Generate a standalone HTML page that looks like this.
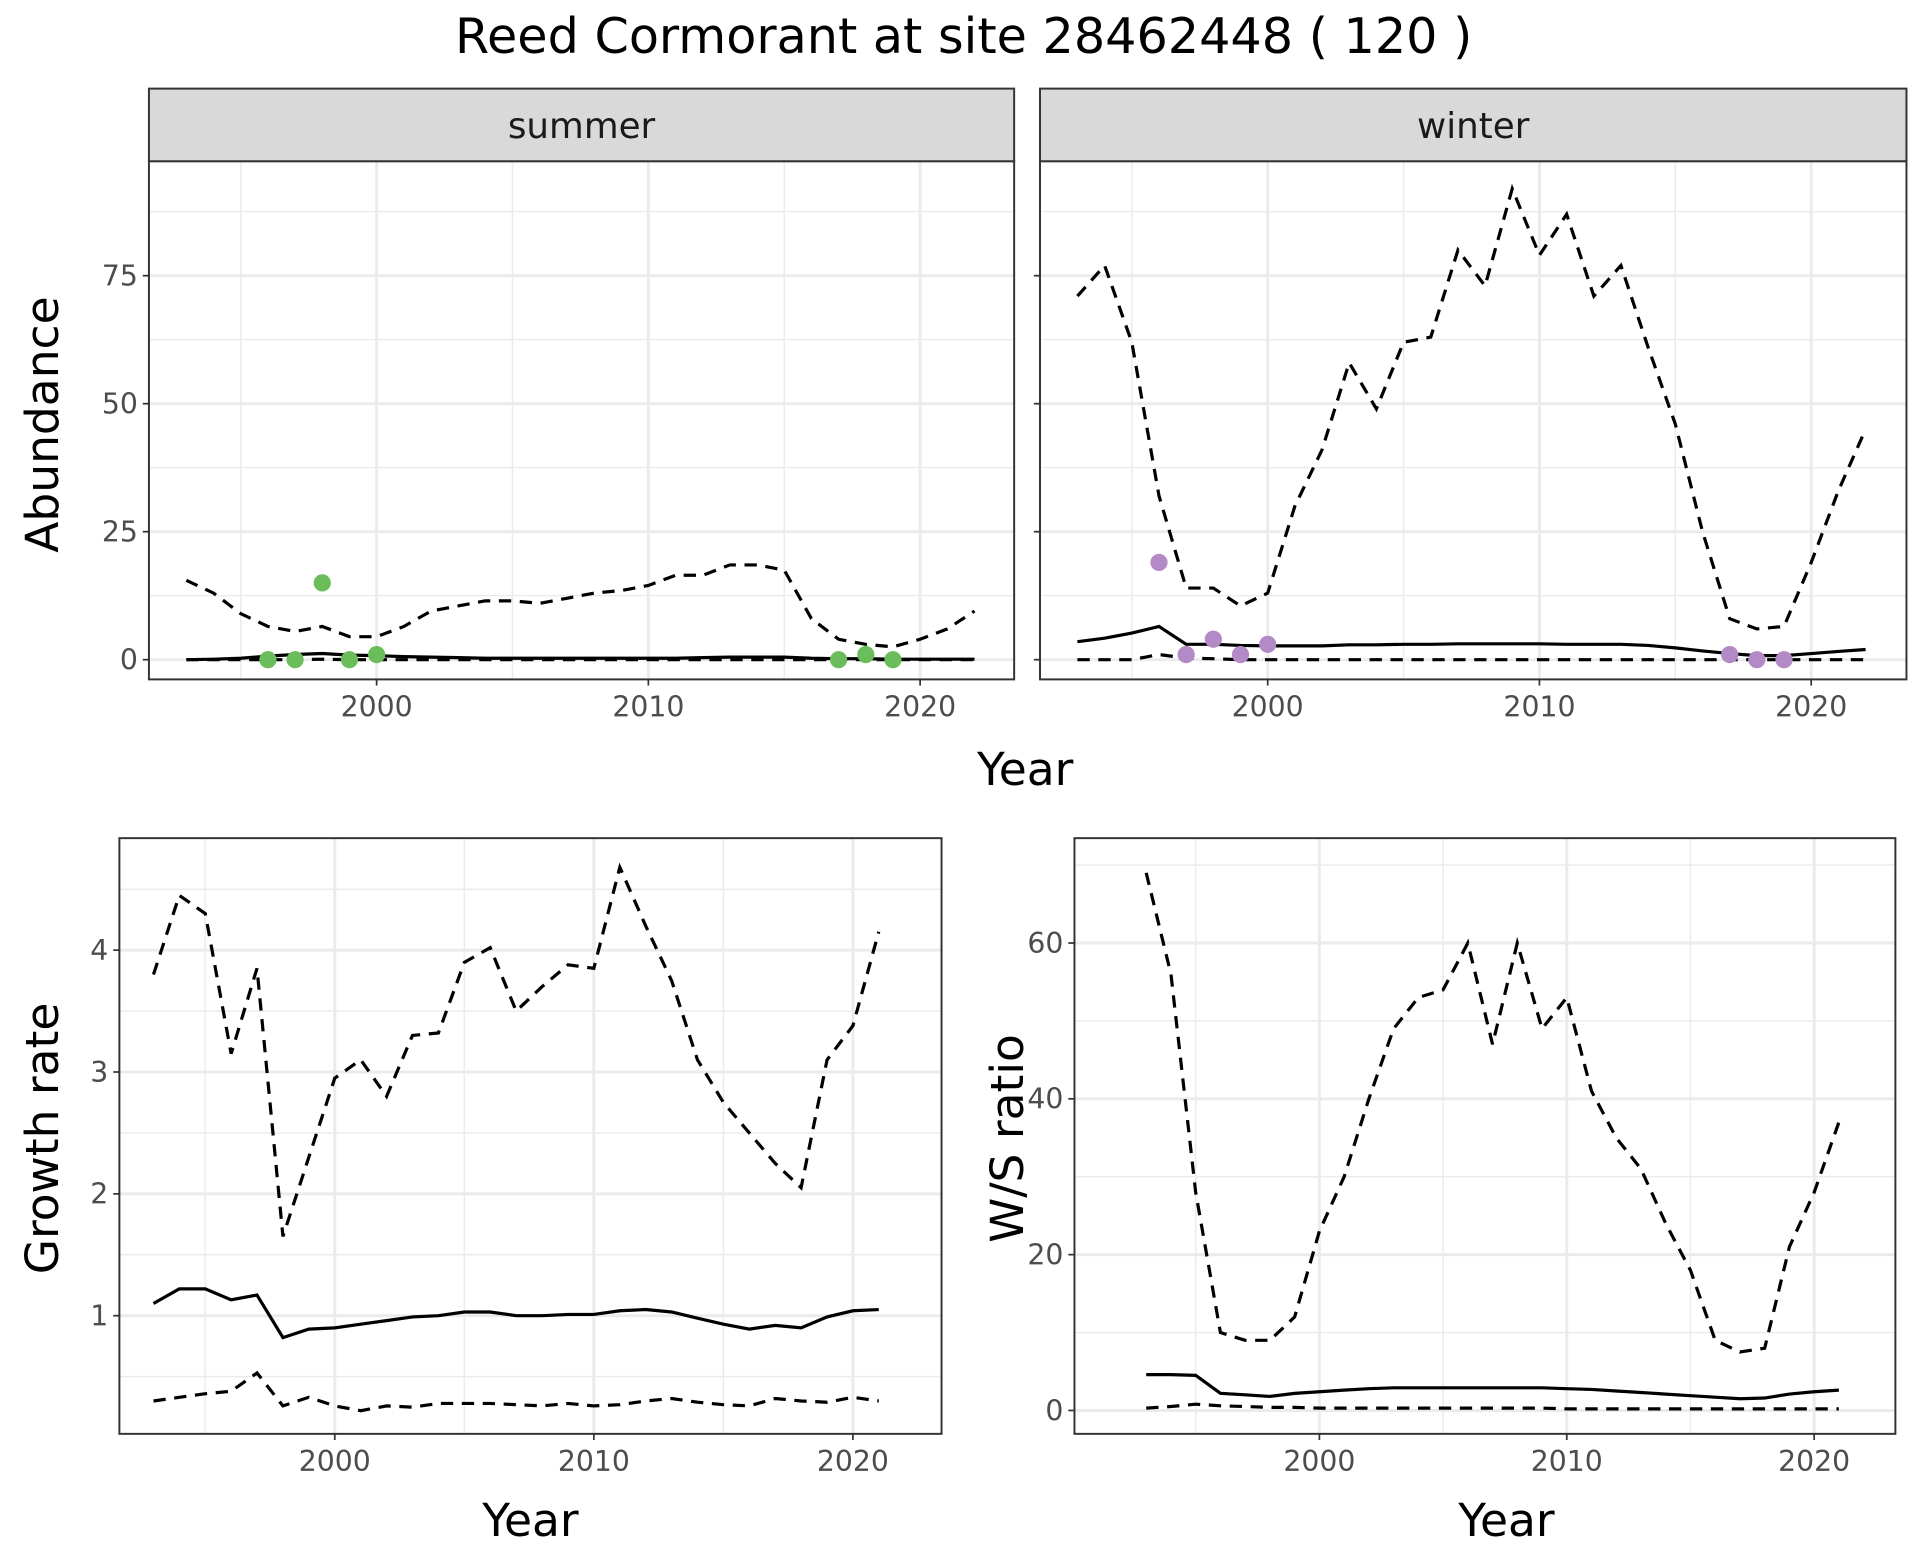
<!DOCTYPE html>
<html><head><meta charset="utf-8"><style>
html,body{margin:0;padding:0;background:#fff;}
svg{display:block;font-family:"DejaVu Sans","Liberation Sans",sans-serif;}
</style></head><body>
<svg id="chart" width="1920" height="1560" viewBox="0 0 1560 1267.5" xmlns="http://www.w3.org/2000/svg">
<rect width="1560" height="1267.5" fill="#fff"/>
<text x="783" y="43" font-size="40" text-anchor="middle" fill="#000">Reed Cormorant at site 28462448 ( 120 )</text>
</svg>
<script>
const yearsA = [1993,1994,1995,1996,1997,1998,1999,2000,2001,2002,2003,2004,2005,2006,2007,2008,2009,2010,2011,2012,2013,2014,2015,2016,2017,2018,2019,2020,2021,2022];
const sumUpper = [15.5,13,9,6.5,5.5,6.5,4.5,4.5,6.5,9.5,10.5,11.5,11.5,11,12,13,13.5,14.5,16.5,16.5,18.5,18.5,17.5,8,4,3,2.5,4,6,9.5];
const sumMid = [0,0.1,0.3,0.7,1,1.2,0.9,0.8,0.6,0.5,0.4,0.3,0.3,0.3,0.3,0.3,0.3,0.3,0.3,0.4,0.5,0.5,0.5,0.3,0.2,0.2,0.1,0.1,0.1,0.1];
const sumLower = [0,0,0,0,0,0.1,0,0,0,0,0,0,0,0,0,0,0,0,0,0,0,0,0,0,0,0,0,0,0,0];
const sumPtYears = [1996,1997,1998,1999,2000,2017,2018,2019];
const sumPts = [0,0,15,0,1,0,1,0];
const winUpper = [71,77,62,32,14,14,10.5,13,30,41,58,49,62,63,80,73,92,79,87,71,77,61,46,25,8,6,6.5,19,33,45];
const winMid = [3.5,4.2,5.2,6.5,3,3,2.8,2.7,2.7,2.7,2.9,2.9,3,3,3.1,3.1,3.1,3.1,3,3,3,2.8,2.3,1.7,1.2,0.8,0.8,1.2,1.6,2];
const winLower = [0,0,0,1,0.3,0.2,0,0,0,0,0,0,0,0,0,0,0,0,0,0,0,0,0,0,0,0,0,0,0,0];
const winPtYears = [1996,1997,1998,1999,2000,2017,2018,2019];
const winPts = [19,1,4,1,3,1,0,0];
const yearsB = [1993,1994,1995,1996,1997,1998,1999,2000,2001,2002,2003,2004,2005,2006,2007,2008,2009,2010,2011,2012,2013,2014,2015,2016,2017,2018,2019,2020,2021];
const grUpper = [3.8,4.45,4.3,3.15,3.85,1.65,2.3,2.95,3.1,2.8,3.3,3.32,3.9,4.02,3.5,3.7,3.88,3.85,4.68,4.2,3.75,3.1,2.75,2.5,2.25,2.05,3.1,3.38,4.15];
const grMid = [1.1,1.22,1.22,1.13,1.17,0.82,0.89,0.9,0.93,0.96,0.99,1.0,1.03,1.03,1.0,1.0,1.01,1.01,1.04,1.05,1.03,0.98,0.93,0.89,0.92,0.9,0.99,1.04,1.05];
const grLower = [0.3,0.33,0.36,0.38,0.53,0.26,0.33,0.26,0.22,0.26,0.25,0.28,0.28,0.28,0.27,0.26,0.28,0.26,0.27,0.3,0.32,0.29,0.27,0.26,0.32,0.3,0.29,0.33,0.3];
const wsUpper = [69,56,28,10,9,9,12,23,30,40,49,53,54,60,47,60,49,53,41,35,31,24,18,9,7.5,8,21,28,37];
const wsMid = [4.6,4.6,4.5,2.2,2.0,1.8,2.2,2.4,2.6,2.8,2.9,2.9,2.9,2.9,2.9,2.9,2.9,2.8,2.7,2.5,2.3,2.1,1.9,1.7,1.5,1.6,2.1,2.4,2.6];
const wsLower = [0.3,0.5,0.8,0.6,0.5,0.4,0.4,0.3,0.3,0.3,0.3,0.3,0.3,0.3,0.3,0.3,0.3,0.2,0.2,0.2,0.2,0.2,0.2,0.2,0.2,0.2,0.2,0.2,0.2];
const xTicks = [2000,2010,2020];
const xMinor = [1995,2005,2015];
const abTicks = [0,25,50,75];
const abMinor = [12.5,37.5,62.5,87.5];
const grTicks = [1,2,3,4];
const grMinor = [0.5,1.5,2.5,3.5,4.5];
const wsTicks = [0,20,40,60];
const wsMinor = [10,30,50,70];

const svg = document.getElementById('chart');
const NS = 'http://www.w3.org/2000/svg';
function mk(tag, attrs, parent){
  const e = document.createElementNS(NS, tag);
  for (const k in attrs) e.setAttribute(k, attrs[k]);
  (parent||svg).appendChild(e);
  return e;
}
function panel(name, L, R, T, B, xs, ys, showY, yLabels){
  const g = mk('g', {});
  
  
  mk('rect', {x:L, y:T, width:R-L, height:B-T, fill:'#fff'}, g);
  xMinor.forEach(v=>{ mk('line',{x1:xs(v),x2:xs(v),y1:T,y2:B,stroke:'#ebebeb','stroke-width':1.2},g); });
  yLabels.minor.forEach(v=>{ const y=ys(v); if(y>T&&y<B) mk('line',{x1:L,x2:R,y1:y,y2:y,stroke:'#ebebeb','stroke-width':1.2},g); });
  xTicks.forEach(v=>{ mk('line',{x1:xs(v),x2:xs(v),y1:T,y2:B,stroke:'#ebebeb','stroke-width':2.4},g); });
  yLabels.major.forEach(v=>{ mk('line',{x1:L,x2:R,y1:ys(v),y2:ys(v),stroke:'#ebebeb','stroke-width':2.4},g); });
  xTicks.forEach(v=>{
    mk('line',{x1:xs(v),x2:xs(v),y1:B,y2:B+5,stroke:'#333','stroke-width':1.4},g);
    const t = mk('text',{x:xs(v),y:B+30,'font-size':23,'text-anchor':'middle',fill:'#4d4d4d'},g);
    t.textContent = v;
    
    
  });
  yLabels.major.forEach(v=>{
    mk('line',{x1:L-5,x2:L,y1:ys(v),y2:ys(v),stroke:'#333','stroke-width':1.4},g);
    if(showY){
      const t = mk('text',{x:L-9,y:ys(v)+8,'font-size':23,'text-anchor':'end',fill:'#4d4d4d'},g);
      t.textContent = v;
      
      
    }
  });
  return g;
}
function line(g, xsArr, vals, xs, ys, dashed, name){
  const d = vals.map((v,i)=>(i?'L':'M')+xs(xsArr[i]).toFixed(1)+','+ys(v).toFixed(1)).join('');
  const p = mk('path',{d:d,fill:'none',stroke:'#000','stroke-width':2.6,'stroke-dasharray':dashed?'10,7':'none'},g);
  
  
}
function points(g, xsArr, vals, xs, ys, color, name){
  vals.forEach((v,i)=>{
    const c = mk('circle',{cx:xs(xsArr[i]),cy:ys(v),r:7,fill:color},g);
    
    
  });
}
function border(g,L,R,T,B){ mk('rect',{x:L,y:T,width:R-L,height:B-T,fill:'none',stroke:'#333','stroke-width':1.6},g); }
function strip(L,R,label){
  const s = mk('rect',{x:L,y:72,width:R-L,height:59,fill:'#d9d9d9',stroke:'#333','stroke-width':1.6});
  
  
  const t = mk('text',{x:(L+R)/2,y:112,'font-size':29,'text-anchor':'middle',fill:'#1a1a1a'});
  t.textContent = label;
  
  
}
function label(txt,x,y,rot,name){
  const t = mk('text',{x:x,y:y,'font-size':37,'text-anchor':'middle',fill:'#000',transform:rot?`rotate(-90 ${x} ${y})`:''});
  t.textContent = txt;
  
  
}
const abY = v => 536 - v*4.16;
const sx = v => 306 + (v-2000)*22.08;
const wx = v => 1030 + (v-2000)*22.08;
let g = panel('summer-panel',121,824,131,552,sx,abY,true,{major:abTicks,minor:abMinor});
line(g,yearsA,sumUpper,sx,abY,true,'summer-upper-ci');
line(g,yearsA,sumLower,sx,abY,true,'summer-lower-ci');
line(g,yearsA,sumMid,sx,abY,false,'summer-estimate');
points(g,sumPtYears,sumPts,sx,abY,'#6abd5a','summer-count-point');
border(g,121,824,131,552);
strip(121,824,'summer');
g = panel('winter-panel',845,1549,131,552,wx,abY,false,{major:abTicks,minor:abMinor});
line(g,yearsA,winUpper,wx,abY,true,'winter-upper-ci');
line(g,yearsA,winLower,wx,abY,true,'winter-lower-ci');
line(g,yearsA,winMid,wx,abY,false,'winter-estimate');
points(g,winPtYears,winPts,wx,abY,'#b48ac6','winter-count-point');
border(g,845,1549,131,552);
strip(845,1549,'winter');
label('Abundance',47,345,true,'y-axis-title-abundance');
label('Year',833,638,false,'x-axis-title-top');
const gx = v => 272 + (v-2000)*21.05;
const gy = v => 1069 - (v-1)*99;
g = panel('growth-rate-panel',97,765,681,1165,gx,gy,true,{major:grTicks,minor:grMinor});
line(g,yearsB,grUpper,gx,gy,true,'growth-upper-ci');
line(g,yearsB,grLower,gx,gy,true,'growth-lower-ci');
line(g,yearsB,grMid,gx,gy,false,'growth-estimate');
border(g,97,765,681,1165);
label('Growth rate',47,925,true,'y-axis-title-growth');
label('Year',431,1248,false,'x-axis-title-growth');
const rx = v => 1072 + (v-2000)*20.1;
const ry = v => 1146 - v*6.33;
g = panel('ws-ratio-panel',873,1540,681,1165,rx,ry,true,{major:wsTicks,minor:wsMinor});
line(g,yearsB,wsUpper,rx,ry,true,'ws-upper-ci');
line(g,yearsB,wsLower,rx,ry,true,'ws-lower-ci');
line(g,yearsB,wsMid,rx,ry,false,'ws-estimate');
border(g,873,1540,681,1165);
label('W/S ratio',831,925,true,'y-axis-title-ws');
label('Year',1224,1248,false,'x-axis-title-ws');
</script>
</body></html>
